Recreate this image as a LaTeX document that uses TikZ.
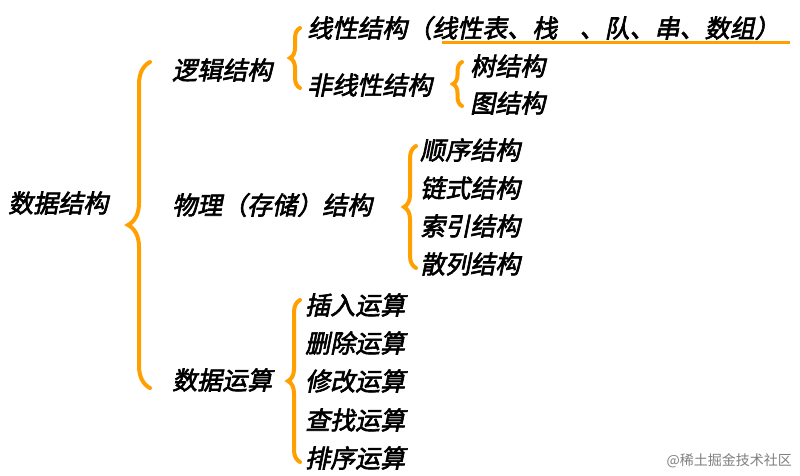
\documentclass[tikz,border=0pt]{standalone}
\usepackage{fontspec}
\newfontfamily\cjk[FakeBold=2.5,FakeSlant=0.2]{Noto Sans CJK SC}
\newfontfamily\cjkw{Noto Sans CJK SC}
\usetikzlibrary{decorations.pathreplacing}
\definecolor{org}{RGB}{255,160,0}
\begin{document}
\begin{tikzpicture}[x=1pt,y=-1pt,
  lbl/.style={anchor=west,inner sep=0pt,font=\cjk\fontsize{25}{25}\selectfont},
  br/.style={draw=org,line width=4pt,line cap=round,decorate,decoration={brace,amplitude=#1}}]
\useasboundingbox (0,0) rectangle (800,475);
\fill[white] (0,0) rectangle (800,475);
\node[lbl] (root) at (8,203) {数据结构};
\node[lbl] (lj) at (172,70) {逻辑结构};
\node[lbl] (wl) at (172,205) {物理（存储）结构};
\node[lbl] (ys) at (172,380) {数据运算};
\node[lbl] (xx) at (307,28) {线性结构（线性表、栈\hspace{0.9em}、队、串、数组）};
\node[lbl] (fx) at (307,85) {非线性结构};
\node[lbl] (shu) at (470,66) {树结构};
\node[lbl] (tu) at (470,103) {图结构};
\node[lbl] (s1) at (420,150) {顺序结构};
\node[lbl] (s2) at (420,188) {链式结构};
\node[lbl] (s3) at (420,226) {索引结构};
\node[lbl] (s4) at (420,264) {散列结构};
\node[lbl] (o1) at (305,305) {插入运算};
\node[lbl] (o2) at (305,343) {删除运算};
\node[lbl] (o3) at (305,381) {修改运算};
\node[lbl] (o4) at (305,420) {查找运算};
\node[lbl] (o5) at (305,458) {排序运算};
\node[anchor=east,inner sep=0pt,text=gray,font=\cjkw\fontsize{14}{14}\selectfont] (wm) at (792,461) {@稀土掘金技术社区};
\coordinate (u1) at (442,42);
\coordinate (u2) at (790,42);
\draw[org,line width=3pt] (u1) -- (u2);
\coordinate (b1a) at (150,388); \coordinate (b1b) at (150,62);
\draw[br=22pt] (b1a) -- (b1b);
\coordinate (b2a) at (300,88); \coordinate (b2b) at (300,28);
\draw[br=10pt] (b2a) -- (b2b);
\coordinate (b3a) at (462,106); \coordinate (b3b) at (462,62);
\draw[br=9pt] (b3a) -- (b3b);
\coordinate (b4a) at (416,268); \coordinate (b4b) at (416,146);
\draw[br=12pt] (b4a) -- (b4b);
\coordinate (b5a) at (300,462); \coordinate (b5b) at (300,300);
\draw[br=12pt] (b5a) -- (b5b);
\end{tikzpicture}
\end{document}
